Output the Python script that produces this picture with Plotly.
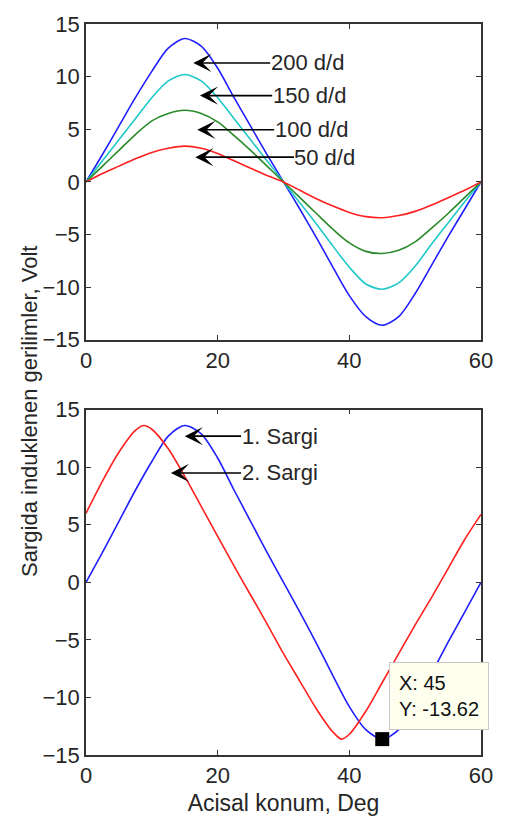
import plotly.graph_objects as go

# Angular position grid (degrees) shared by the speed sweep
angle = [0, 2.5, 5, 7.5, 10, 12.5, 15, 17.5, 20, 22.5, 25, 27.5, 30,
         32.5, 35, 37.5, 40, 42.5, 45, 47.5, 50, 52.5, 55, 57.5, 60]

# Induced voltage at four speeds (Volt)
v_200 = [0, 2.6, 5.3, 8.0, 10.5, 12.7, 13.62, 12.9, 10.8, 8.0, 5.3, 2.6, 0,
         -2.6, -5.3, -8.1, -10.8, -12.8, -13.62, -12.8, -10.6, -7.9, -5.2, -2.6, 0]
v_150 = [0, 2.0, 4.0, 6.0, 8.0, 9.6, 10.2, 9.6, 8.0, 6.0, 4.0, 2.0, 0,
         -2.0, -4.0, -6.1, -8.1, -9.7, -10.2, -9.6, -8.0, -5.9, -3.9, -1.9, 0]
v_100 = [0, 1.5, 3.0, 4.5, 5.8, 6.5, 6.8, 6.5, 5.7, 4.4, 3.0, 1.5, 0,
         -1.5, -3.0, -4.5, -5.8, -6.6, -6.8, -6.5, -5.7, -4.4, -3.0, -1.5, 0]
v_50 = [0, 0.8, 1.5, 2.2, 2.8, 3.2, 3.4, 3.2, 2.7, 2.0, 1.3, 0.6, 0,
        -0.8, -1.6, -2.3, -2.9, -3.3, -3.4, -3.2, -2.8, -2.2, -1.5, -0.8, 0]

speed_labels = ["200 d/d", "150 d/d", "100 d/d", "50 d/d"]
speed_series = [v_200, v_150, v_100, v_50]
speed_colors = ["#2020ff", "#20c8c8", "#2a8a2a", "#ff2020"]
# label arrow heads (x, y) and text centres (x, y) in data units
speed_heads = [(16.3, 11.3), (17.3, 8.2), (16.9, 4.95), (16.6, 2.35)]
speed_texts = [(33.6, 11.3), (33.9, 8.2), (34.2, 4.95), (36.3, 2.35)]

# Two windings at 200 d/d
winding1_x = angle
winding1_v = v_200
winding2_x = [0, 2.5, 5, 7.5, 8.8, 10, 12.5, 15, 17.5, 20, 22.5, 25, 27.5, 30,
              32.5, 35, 37.5, 38.8, 40, 42.5, 45, 47.5, 50, 52.5, 55, 57.5, 60]
winding2_v = [6.0, 8.8, 11.3, 13.2, 13.62, 13.3, 11.6, 9.2, 6.6, 4.0, 1.4, -1.1,
              -3.6, -6.2, -8.6, -11.0, -13.0, -13.62, -13.2, -11.2, -8.7, -6.2,
              -3.7, -1.3, 1.2, 3.7, 5.9]
winding_labels = ["1. Sargi", "2. Sargi"]
winding_heads = [(15.0, 12.7), (12.9, 9.5)]
winding_texts = [(29.4, 12.7), (29.4, 9.5)]

# Data cursor point
tip_x = 45
tip_y = -13.62

x_ticks = [0, 20, 40, 60]
y_ticks = [-15, -10, -5, 0, 5, 10, 15]

FONT = "Liberation Sans, Arial, sans-serif"
TXT = "#262626"
AX = "#333333"

fig = go.Figure()

for name, vals, col in zip(speed_labels, speed_series, speed_colors):
    fig.add_trace(go.Scatter(x=angle, y=vals, mode="lines", name=name,
                             line=dict(color=col, width=1.6, shape="spline", smoothing=0.8),
                             xaxis="x", yaxis="y", showlegend=False))

fig.add_trace(go.Scatter(x=winding1_x, y=winding1_v, mode="lines", name="1. Sargi",
                         line=dict(color="#2020ff", width=1.6, shape="spline", smoothing=0.8),
                         xaxis="x2", yaxis="y2", showlegend=False))
fig.add_trace(go.Scatter(x=winding2_x, y=winding2_v, mode="lines", name="2. Sargi",
                         line=dict(color="#ff2020", width=1.6, shape="spline", smoothing=0.8),
                         xaxis="x2", yaxis="y2", showlegend=False))
fig.add_trace(go.Scatter(x=[tip_x], y=[tip_y], mode="markers",
                         marker=dict(symbol="square", size=14, color="black"),
                         xaxis="x2", yaxis="y2", showlegend=False, cliponaxis=False))

annotations = []
for lab, (hx, hy), (tx, ty) in zip(speed_labels, speed_heads, speed_texts):
    annotations.append(dict(x=hx, y=hy, ax=tx, ay=ty, xref="x", yref="y",
                            axref="x", ayref="y", text=lab, showarrow=True,
                            arrowhead=3, arrowsize=1.9, arrowwidth=1.6,
                            arrowcolor="black", borderpad=0,
                            font=dict(family=FONT, size=22, color=TXT)))
for lab, (hx, hy), (tx, ty) in zip(winding_labels, winding_heads, winding_texts):
    annotations.append(dict(x=hx, y=hy, ax=tx, ay=ty, xref="x2", yref="y2",
                            axref="x2", ayref="y2", text=lab, showarrow=True,
                            arrowhead=3, arrowsize=1.9, arrowwidth=1.6,
                            arrowcolor="black", borderpad=0,
                            font=dict(family=FONT, size=22, color=TXT)))
annotations.append(dict(x=tip_x, y=tip_y, xref="x2", yref="y2",
                        text=f"X: {tip_x}<br>Y: {tip_y:.2f}", showarrow=False,
                        xanchor="left", yanchor="bottom", xshift=7, yshift=9,
                        align="left", bgcolor="#fffff0", bordercolor="#c8c8c8",
                        borderwidth=1, borderpad=9,
                        font=dict(family=FONT, size=20, color="#111111")))
annotations.append(dict(x=-0.143, y=0.47, xref="paper", yref="paper",
                        text="Sargida induklenen gerilimler, Volt", textangle=-90,
                        showarrow=False, xanchor="center", yanchor="middle",
                        font=dict(family=FONT, size=22, color=TXT)))

axis_common = dict(range=[0, 60], tickvals=x_ticks, ticks="inside", ticklen=5,
                   tickwidth=1.2, tickcolor=AX, showline=True, linecolor=AX,
                   linewidth=1.5, mirror="ticks", showgrid=False, zeroline=False,
                   tickfont=dict(family=FONT, size=22, color=TXT))
yaxis_common = dict(range=[-15, 15], tickvals=y_ticks, ticks="inside", ticklen=5,
                    tickwidth=1.2, tickcolor=AX, showline=True, linecolor=AX,
                    linewidth=1.5, mirror="ticks", showgrid=False, zeroline=False,
                    tickfont=dict(family=FONT, size=22, color=TXT))

fig.update_layout(
    width=505, height=825,
    margin=dict(l=86, r=17, t=12, b=70),
    paper_bgcolor="white", plot_bgcolor="white",
    xaxis=dict(domain=[0, 1], anchor="y", **axis_common),
    yaxis=dict(domain=[0.568, 1.0], anchor="x", **yaxis_common),
    xaxis2=dict(domain=[0, 1], anchor="y2",
                title=dict(text="Acisal konum, Deg", standoff=8,
                           font=dict(family=FONT, size=23, color=TXT)),
                **axis_common),
    yaxis2=dict(domain=[0, 0.4724], anchor="x2", **yaxis_common),
    annotations=annotations,
)

fig.write_html("out.html")
